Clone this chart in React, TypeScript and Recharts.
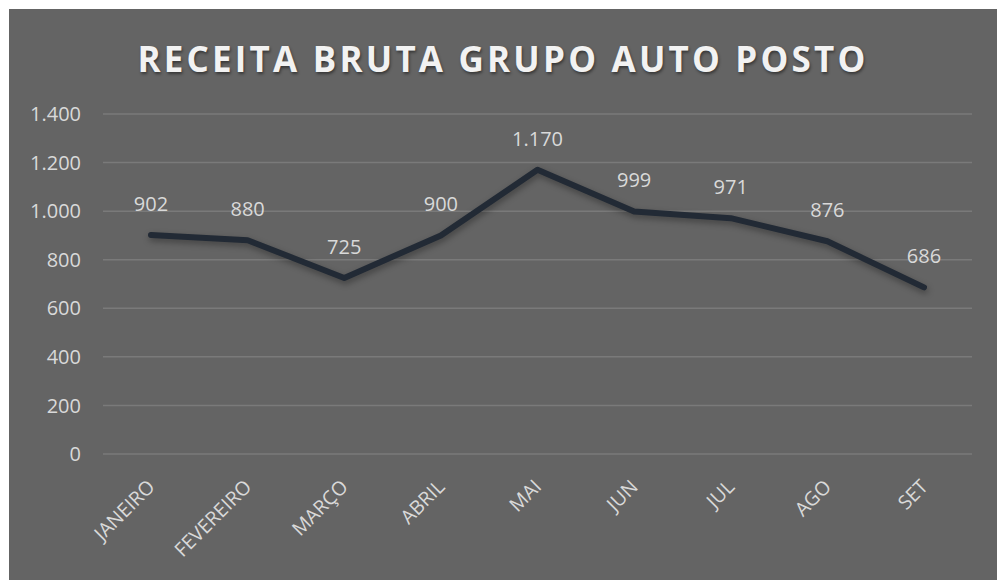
import React from 'react'
import { CartesianGrid, LabelList, Line, LineChart, XAxis, YAxis } from 'recharts'

const months = ['JANEIRO', 'FEVEREIRO', 'MARÇO', 'ABRIL', 'MAI', 'JUN', 'JUL', 'AGO', 'SET']
const receita = [902, 880, 725, 900, 1170, 999, 971, 876, 686]
const yTicks = [0, 200, 400, 600, 800, 1000, 1200, 1400]

const data = months.map((mes, i) => ({ mes, receita: receita[i] }))

const fmt = (v: number) => String(v).replace(/\B(?=(\d{3})+(?!\d))/g, '.')

const FONT = '"Open Sans", sans-serif'
const TXT = '#d9d9d9'

const MonthTick = (props: any) => {
  const { x, y, payload } = props
  return (
    <g transform={`translate(${x + 5},${y + 26})`}>
      <text
        textAnchor="end"
        transform="rotate(-45)"
        fill={TXT}
        fontSize={19.5}
        fontFamily={FONT}
      >
        {payload.value}
      </text>
    </g>
  )
}

export default function App() {
  return (
    <div
      style={{
        position: 'absolute',
        left: 9,
        top: 9,
        width: 988,
        height: 571,
        background: '#646464',
        fontFamily: FONT,
      }}
    >
      <style>{`.auto-line .recharts-line-curve { filter: drop-shadow(1px 3px 3px rgba(0,0,0,0.35)); }`}</style>
      <div
        style={{
          position: 'absolute',
          top: 26,
          left: 0,
          width: '100%',
          textAlign: 'center',
          color: '#f2f2f2',
          fontSize: 35,
          fontWeight: 700,
          letterSpacing: 3.2,
          lineHeight: '48px',
          textShadow: '1px 2px 3px rgba(0,0,0,0.45)',
        }}
      >
        RECEITA BRUTA GRUPO AUTO POSTO
      </div>
      <LineChart
        width={988}
        height={571}
        data={data}
        margin={{ top: 105, right: 25, left: 0, bottom: 0 }}
      >
        <CartesianGrid vertical={false} stroke="#7a7a7a" strokeWidth={1.5} />
        <XAxis
          dataKey="mes"
          axisLine={false}
          tickLine={false}
          height={126}
          interval={0}
          padding={{ left: 48, right: 48 }}
          tick={<MonthTick />}
        />
        <YAxis
          domain={[0, 1400]}
          ticks={yTicks}
          width={94}
          axisLine={false}
          tickLine={false}
          tickSize={0}
          tickMargin={22}
          tickFormatter={fmt}
          tick={{ fill: TXT, fontSize: 20, fontFamily: FONT }}
        />
        <Line
          className="auto-line"
          type="linear"
          dataKey="receita"
          stroke="#222a35"
          strokeWidth={6}
          strokeLinecap="round"
          strokeLinejoin="round"
          dot={false}
          activeDot={false}
          isAnimationActive={false}
        >
          <LabelList
            dataKey="receita"
            position="top"
            offset={24}
            formatter={(v: any) => fmt(Number(v))}
            fill={TXT}
            fontSize={20}
            fontFamily={FONT}
          />
        </Line>
      </LineChart>
    </div>
  )
}
